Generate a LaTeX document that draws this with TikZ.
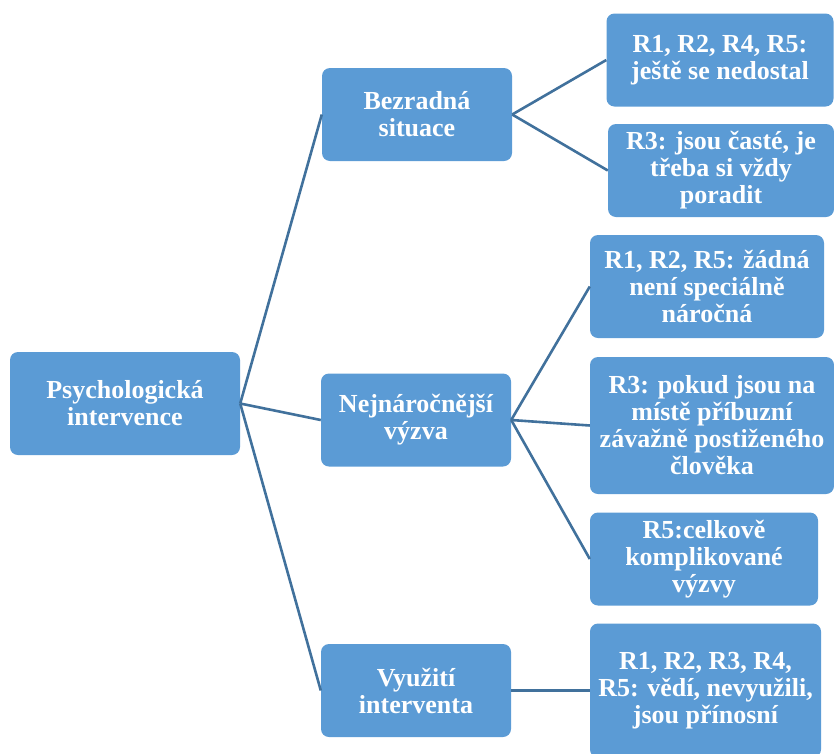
\documentclass[tikz,border=0pt]{standalone}
\usepackage{fontspec}
\setmainfont{Liberation Serif}
\usepackage{xcolor}
\usetikzlibrary{positioning}
\definecolor{boxblue}{HTML}{5B9BD5}
\definecolor{linkblue}{HTML}{41719C}
\tikzstyle{topic} = [rectangle, rounded corners=8pt, text centered, fill=boxblue, text=white, align=center, font=\bfseries\fontsize{26}{27}\selectfont]
\tikzstyle{root} = [topic, minimum width=230pt, minimum height=103pt]
\tikzstyle{branch} = [topic, minimum width=190pt, minimum height=93pt]
\tikzstyle{leaf} = [topic, minimum width=227pt, minimum height=93pt]
\tikzstyle{link} = [line width=2.6pt, draw=linkblue]

\begin{document}
\begin{tikzpicture}[node distance=291pt]
    \useasboundingbox (0pt,0pt) rectangle (834pt,-753pt);
    \node (psych) [root] at (125pt,-403.5pt) {Psychologická\\intervence};
    \node (bez) [branch, right of = psych, xshift=1pt, yshift=289pt] {Bezradná\\situace};
    \node (nej) [branch, right of = psych, yshift=-16.5pt] {Nejnáročnější\\výzva};
    \node (vyu) [branch, right of = psych, yshift=-287pt] {Využití\\interventa};
    % leaves of Bezradna situace
    \node (bezA) [leaf, right of = bez, xshift=12pt, yshift=54.5pt] {R1, R2, R4, R5:\\ještě se nedostal};
    \node (bezB) [leaf, minimum width=226pt, right of = bez, xshift=13pt, yshift=-56pt] {R3: jsou časté, je\\třeba si vždy\\poradit};
    % leaves of Nejnarocnejsi vyzva
    \node (nejA) [leaf, minimum width=234pt, minimum height=103pt, right of = nej, yshift=133.5pt] {R1, R2, R5: žádná\\není speciálně\\náročná};
    \node (nejB) [leaf, minimum width=244pt, minimum height=137pt, right of = nej, xshift=5pt, yshift=-5.5pt] {R3: pokud jsou na\\místě příbuzní\\závažně postiženého\\člověka};
    \node (nejC) [leaf, minimum width=228pt, right of = nej, xshift=-3pt, yshift=-139pt] {R5:celkově\\komplikované\\výzvy};
    % leaf of Vyuziti interventa
    \node (vyuA) [leaf, minimum width=231pt, minimum height=134pt, right of = vyu, xshift=-1.5pt] {R1, R2, R3, R4,\\R5: vědí, nevyužili,\\jsou přínosní};
    \draw[link] (psych.east)--(bez.west);
    \draw[link] (psych.east)--(nej.west);
    \draw[link] (psych.east)--(vyu.west);
    \draw[link] (bez.east)--(bezA.west);
    \draw[link] (bez.east)--(bezB.west);
    \draw[link] (nej.east)--(nejA.west);
    \draw[link] (nej.east)--(nejB.west);
    \draw[link] (nej.east)--(nejC.west);
    \draw[link] (vyu.east)--(vyuA.west);
\end{tikzpicture}
\end{document}
